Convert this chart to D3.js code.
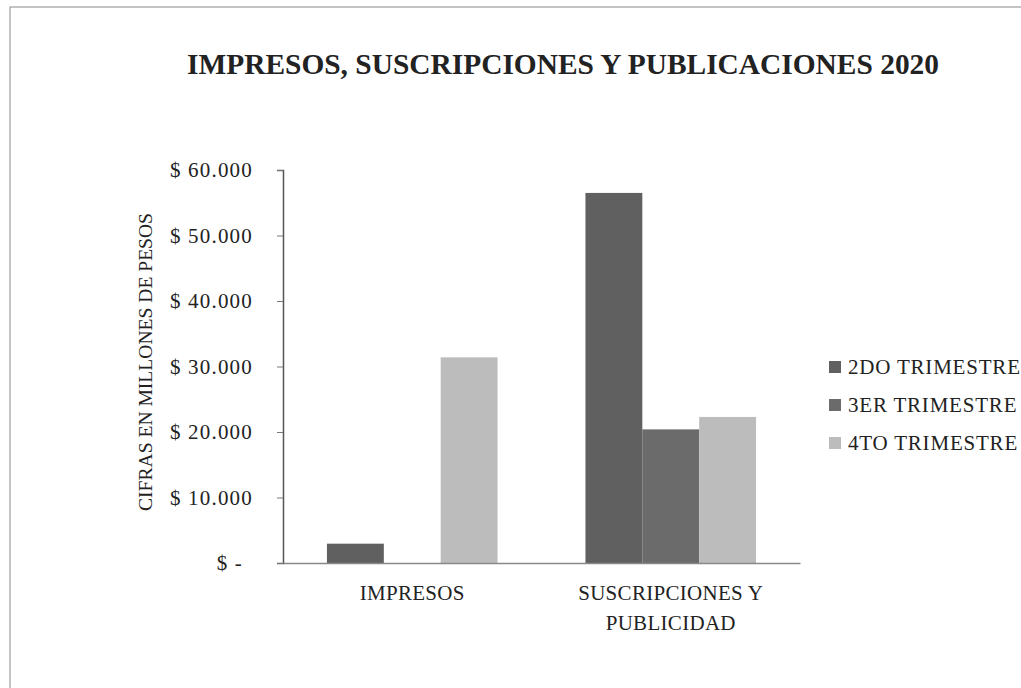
<!DOCTYPE html>
<html>
<head>
<meta charset="utf-8">
<script src="https://cdn.jsdelivr.net/npm/d3@7"></script>
<style>
  body { margin: 0; background: #fff; }
  svg { display: block; font-family: "Liberation Serif", serif; }
</style>
</head>
<body>
<svg id="chart"></svg>
<script>
// Data
let categories = ['IMPRESOS', 'SUSCRIPCIONES Y PUBLICIDAD']
let categoryLines = [['IMPRESOS'], ['SUSCRIPCIONES Y', 'PUBLICIDAD']]
let seriesNames = ['2DO TRIMESTRE', '3ER TRIMESTRE', '4TO TRIMESTRE']
let trim2 = [2950, 56500]
let trim3 = [0, 20400]
let trim4 = [31400, 22300]
let yTicks = [0, 10000, 20000, 30000, 40000, 50000, 60000]
let colors = ['#606060', '#6b6b6b', '#bcbcbc']

let seriesValues = [trim2, trim3, trim4]
let rows = []
categories.forEach((c, i) => {
    seriesNames.forEach((s, j) => rows.push({ cat: c, series: s, value: seriesValues[j][i] }))
})

// Dimensions
let width = 1021
let height = 688
let plot = { left: 283, right: 800, top: 170, bottom: 563 }

let svg = d3.select('#chart')
    .attr('width', width)
    .attr('height', height)

// Outer border
svg.append('rect')
    .attr('x', 10).attr('y', 7)
    .attr('width', 1030).attr('height', 700)
    .attr('fill', 'none')
    .attr('stroke', '#8a8a8a')
    .attr('stroke-width', 1)

// Scales
let x0 = d3.scaleBand().domain(categories).range([plot.left, plot.right]).paddingInner(0.34).paddingOuter(0.17)
let x1 = d3.scaleBand().domain(seriesNames).range([0, x0.bandwidth()])
let y = d3.scaleLinear().domain([0, 60000]).range([plot.bottom, plot.top])
let color = d3.scaleOrdinal().domain(seriesNames).range(colors)

// Bars
svg.append('g')
    .selectAll('rect')
    .data(rows.filter(d => d.value > 0))
    .enter()
    .append('rect')
    .attr('x', d => x0(d.cat) + x1(d.series))
    .attr('y', d => y(d.value))
    .attr('width', x1.bandwidth())
    .attr('height', d => y(0) - y(d.value))
    .attr('fill', d => color(d.series))

// Y axis
let yAxis = d3.axisLeft(y)
    .tickValues(yTicks)
    .tickSize(6)
    .tickPadding(24)
    .tickFormat(d => d === 0 ? '$ -' : '$ ' + d3.format(',')(d).replace(/,/g, '.'))

let gy = svg.append('g')
    .attr('transform', `translate(${plot.left},0)`)
    .call(yAxis)
gy.select('.domain').attr('stroke', '#555').attr('stroke-width', 1.5)
gy.selectAll('.tick line').attr('stroke', '#777')
gy.selectAll('.tick text')
    .attr('font-family', '"Liberation Serif", serif')
    .attr('font-size', 21)
    .attr('letter-spacing', 1.2)
    .attr('fill', '#222')
gy.selectAll('.tick').filter(d => d === 0).select('text').attr('dx', -10)

// X axis baseline
let xAxis = d3.axisBottom(x0).tickSize(0).tickFormat('')
let gx = svg.append('g')
    .attr('transform', `translate(0,${plot.bottom})`)
    .call(xAxis)
gx.select('.domain').attr('stroke', '#888').attr('stroke-width', 1.5)

// Category labels
categories.forEach((c, i) => {
    categoryLines[i].forEach((line, k) => {
        svg.append('text')
            .attr('x', x0(c) + x0.bandwidth() / 2)
            .attr('y', 600 + k * 30)
            .attr('text-anchor', 'middle')
            .attr('font-size', 21)
            .attr('letter-spacing', 0.3)
            .attr('fill', '#222')
            .text(line)
    })
})

// Title
svg.append('text')
    .attr('x', 563)
    .attr('y', 74)
    .attr('text-anchor', 'middle')
    .attr('font-size', 29)
    .attr('font-weight', 'bold')
    .attr('fill', '#222')
    .attr('textLength', 752)
    .attr('lengthAdjust', 'spacingAndGlyphs')
    .text('IMPRESOS, SUSCRIPCIONES  Y PUBLICACIONES 2020')

// Y label
svg.append('text')
    .attr('transform', `translate(152,362) rotate(-90)`)
    .attr('text-anchor', 'middle')
    .attr('font-size', 19)
    .attr('fill', '#222')
    .attr('textLength', 298)
    .attr('lengthAdjust', 'spacingAndGlyphs')
    .text('CIFRAS EN MILLONES DE PESOS')

// Legend
let legend = svg.append('g')
    .selectAll('g')
    .data(seriesNames)
    .enter()
    .append('g')
    .attr('transform', (d, i) => `translate(829,${367 + i * 38})`)

legend.append('rect')
    .attr('x', 0).attr('y', -6)
    .attr('width', 12).attr('height', 12)
    .attr('fill', d => color(d))

legend.append('text')
    .attr('x', 19)
    .attr('y', 7)
    .attr('font-size', 21)
    .attr('letter-spacing', 0.8)
    .attr('fill', '#222')
    .text(d => d)
</script>
</body>
</html>
